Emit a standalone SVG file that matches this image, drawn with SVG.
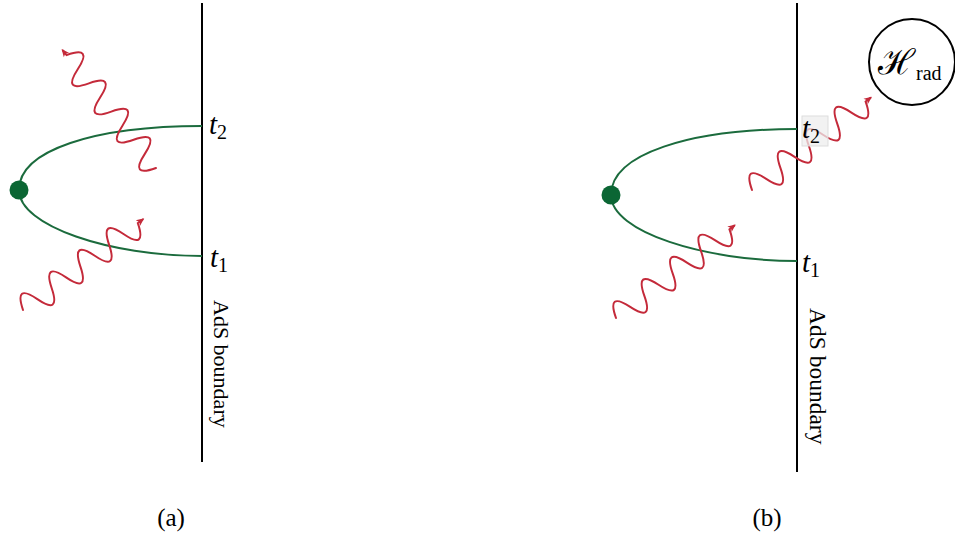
<svg xmlns="http://www.w3.org/2000/svg" width="955" height="537" viewBox="0 0 955 537">
  <style>
    .bnd { stroke: #000; stroke-width: 2; fill: none; }
    .geo { stroke: #1b6b3d; stroke-width: 2; fill: none; }
    .wave { stroke: #c42a3a; stroke-width: 2; fill: none; marker-end: url(#arr); stroke-linecap: round; }
    .dot { fill: #0b6634; }
    .tm { font-family: "Liberation Serif", "Times New Roman", "DejaVu Serif", serif; font-style: italic; font-size: 29px; fill: #000; }
    .sub { font-family: "Liberation Serif", "Times New Roman", "DejaVu Serif", serif; font-style: normal; font-size: 20px; }
    .ads { font-family: "Liberation Serif", "Times New Roman", "DejaVu Serif", serif; fill: #000; }
    .cap { font-family: "Liberation Serif", "Times New Roman", "DejaVu Serif", serif; font-size: 25px; fill: #000; text-anchor: middle; }
  </style>
  <defs>
    <marker id="arr" markerWidth="9" markerHeight="9" refX="6" refY="4.5" orient="auto" markerUnits="userSpaceOnUse">
      <path d="M0,1 L8,4.5 L0,8 L2,4.5 z" fill="#c42a3a"/>
    </marker>
    <path id="w" d="M0,0 c6,-18 12,-18 18,0 s12,18 18,0 s12,-18 18,0 s12,18 18,0 s12,-18 18,0 s12,18 18,0 s12,-18 18,0 s12,18 18,0 l6,0"/>
  </defs>

  <rect width="955" height="537" fill="#fff"/>

  <!-- panel (a) -->
  <g id="boundary-a">
    <line class="bnd" x1="202" y1="3" x2="202" y2="462"/>
    <text class="ads" font-size="22" transform="translate(214,300) rotate(90)">AdS boundary</text>
  </g>
  <g id="geodesic-a">
    <path class="geo" d="M202,126 C95,126 19,150 19,190 C19,226 110,256 202,256"/>
    <circle class="dot" cx="19" cy="190" r="9.5"/>
  </g>
  <g id="label-t2-a">
    <text class="tm" x="209" y="134">t<tspan class="sub" dy="5">2</tspan></text>
  </g>
  <g id="label-t1-a">
    <text class="tm" x="210" y="267">t<tspan class="sub" dy="5">1</tspan></text>
  </g>

  <!-- panel (b) -->
  <g id="boundary-b">
    <line class="bnd" x1="797" y1="3" x2="797" y2="472"/>
    <text class="ads" font-size="23.5" transform="translate(810,308) rotate(90)">AdS boundary</text>
  </g>
  <g id="geodesic-b">
    <path class="geo" d="M797,129 C690,129 611,154 611,195 C611,232 705,261 797,261"/>
    <circle class="dot" cx="611" cy="195" r="9.5"/>
  </g>
  <g id="label-t1-b">
    <text class="tm" x="802" y="272">t<tspan class="sub" dy="5">1</tspan></text>
  </g>

  <g id="connectors">
    <use href="#w" class="wave" transform="translate(156,168) rotate(231.6)"/>
    <use href="#w" class="wave" transform="translate(23,310) rotate(-37.1)"/>
    <use href="#w" class="wave" transform="translate(616,318) rotate(-38)"/>
    <use href="#w" class="wave" transform="translate(752,190) rotate(-37.9)"/>
  </g>

  <g id="label-t2-b">
    <rect x="802" y="116" width="26" height="30" fill="#eeeeee" fill-opacity="0.75" stroke="#dddddd" stroke-width="1"/>
    <text class="tm" x="802" y="138">t<tspan class="sub" dy="5">2</tspan></text>
  </g>

  <g id="hrad">
    <circle cx="912" cy="62" r="43" fill="none" stroke="#000" stroke-width="2"/>
    <text x="878" y="74" font-family="'DejaVu Serif', 'Noto Sans', serif" font-size="35" font-style="italic">ℋ</text>
    <text x="916" y="80" font-family="'Liberation Serif', 'DejaVu Serif', serif" font-size="20">rad</text>
  </g>

  <g id="captions">
    <text class="cap" x="171" y="526">(a)</text>
    <text class="cap" x="767" y="526">(b)</text>
  </g>
</svg>
